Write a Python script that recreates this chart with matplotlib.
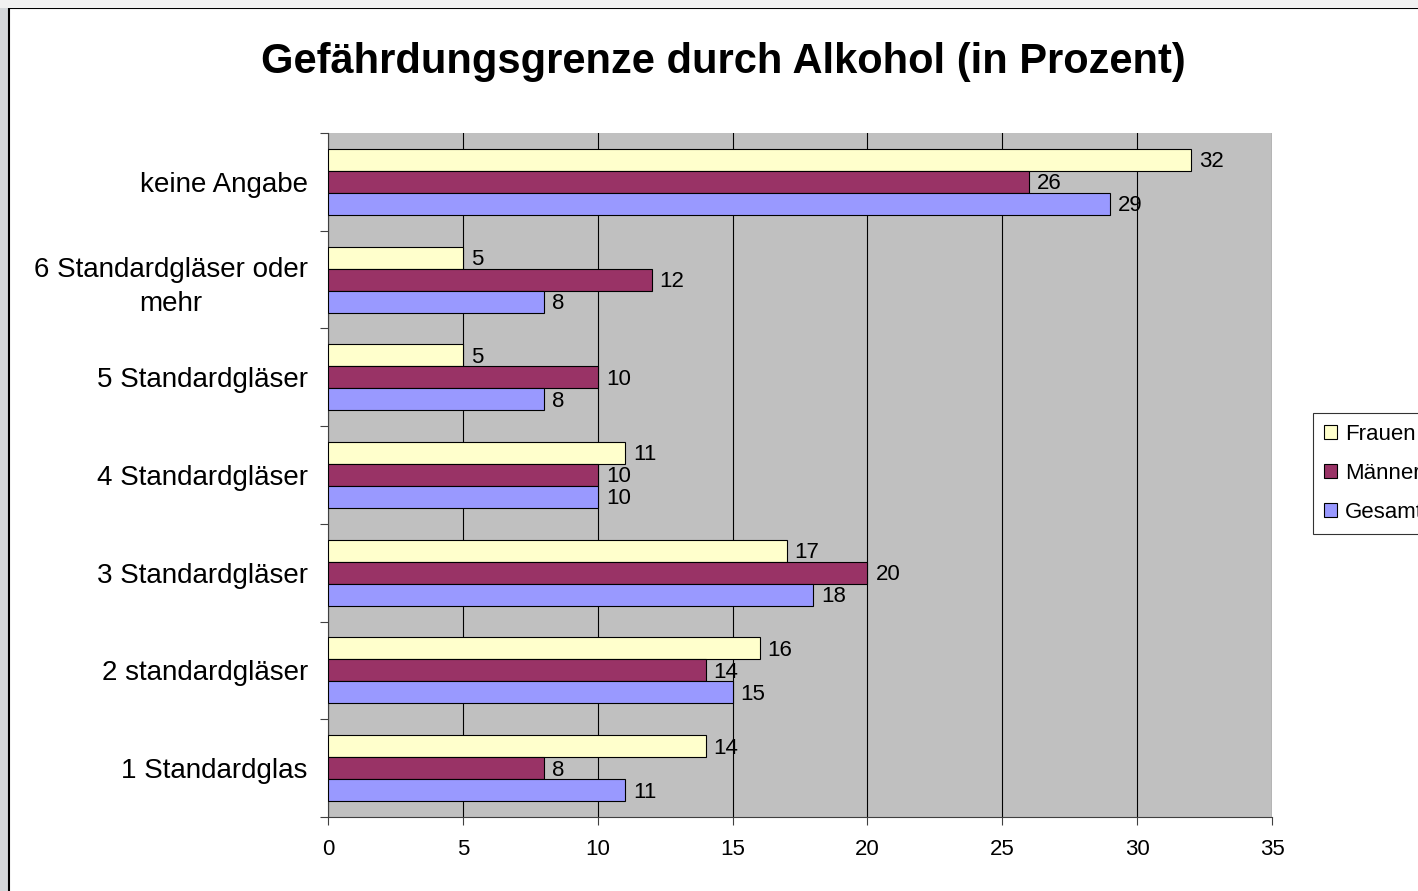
import numpy as np
import matplotlib.pyplot as plt
from matplotlib.patches import Rectangle
from matplotlib.ticker import MultipleLocator, FixedLocator

plt.rcParams['font.family'] = ['Liberation Sans', 'DejaVu Sans']

# data
categories = ['1 Standardglas', '2 standardgläser', '3 Standardgläser', '4 Standardgläser',
              '5 Standardgläser', '6 Standardgläser oder\nmehr', 'keine Angabe']
frauen = [14, 16, 17, 11, 5, 5, 32]
maenner = [8, 14, 20, 10, 10, 12, 26]
gesamt = [11, 15, 18, 10, 8, 8, 29]
series_names = ['Frauen', 'Männer', 'Gesamt']
colors = ['#ffffcc', '#993366', '#9999ff']

fig = plt.figure(figsize=(14.18, 8.91), dpi=100, facecolor='#d4d7da')
# white chart area with black border (cut off at right and bottom)
fig.patches.append(Rectangle((9 / 1418, -0.1), 1.2, 1 - 8 / 891 + 0.1, transform=fig.transFigure,
                             facecolor='white', edgecolor='black', linewidth=1.5, zorder=-2))
fig.patches.append(Rectangle((0, 1 - 8 / 891), 1, 8 / 891, transform=fig.transFigure,
                             facecolor='#f1f1f1', edgecolor='none', zorder=-2))

ax = fig.add_axes([328 / 1418, 1 - 817 / 891, (1272 - 328) / 1418, (817 - 133) / 891])
ax.set_facecolor('#c0c0c0')

y = np.arange(len(categories))
h = 0.225
offsets = [h, 0, -h]
for vals, off, col, name in zip([frauen, maenner, gesamt], offsets, colors, series_names):
    bars = ax.barh(y + off, vals, height=h, color=col, edgecolor='black', linewidth=0.8,
                   label=name, zorder=3)
    for b, v in zip(bars, vals):
        ax.text(v + 0.3, b.get_y() + b.get_height() / 2 - 0.02, str(v), va='center', ha='left',
                fontsize=16, zorder=4)

ax.set_xlim(0, 35)
ax.set_ylim(-0.5, len(categories) - 0.5)
ax.xaxis.set_major_locator(MultipleLocator(5))
ax.grid(axis='x', color='black', linewidth=0.8, zorder=1)
ax.set_yticks(y)
ax.set_yticklabels(categories, fontsize=20, multialignment='center', linespacing=1.4)
ax.yaxis.set_minor_locator(FixedLocator(np.arange(-0.5, len(categories), 1)))
ax.tick_params(axis='y', which='major', length=0, pad=14.5)
ax.tick_params(axis='y', which='minor', length=6, width=0.8, color='#404040')
ax.tick_params(axis='x', length=6, width=0.8, color='#404040', labelsize=16, pad=10)
for s in ['top', 'right']:
    ax.spines[s].set_visible(False)
for s in ['left', 'bottom']:
    ax.spines[s].set_color('#404040')
    ax.spines[s].set_linewidth(0.8)

fig.text(723 / 1418, 1 - 62 / 891, 'Gefährdungsgrenze durch Alkohol (in Prozent)', ha='center',
         va='center', fontsize=30, fontweight='bold')

leg = fig.legend(loc='upper left', bbox_to_anchor=(1313 / 1418, 1 - 413 / 891), fontsize=16,
                 frameon=True, fancybox=False, edgecolor='black', handlelength=0.6,
                 handleheight=0.6, handletextpad=0.35, labelspacing=0.8, borderpad=0.5,
                 borderaxespad=0)
leg.get_frame().set_linewidth(0.8)

fig.savefig('out.png', dpi=100, facecolor=fig.get_facecolor())
